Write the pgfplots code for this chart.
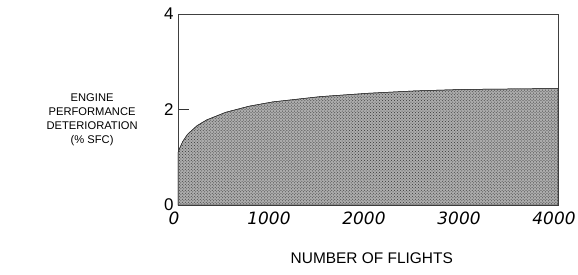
\documentclass[border=0pt]{standalone}
\usepackage{fontspec}
\setmainfont{Liberation Sans}
\newfontfamily\tickfont{DejaVu Sans}
\usepackage{pgfplots}
\pgfplotsset{compat=1.18}
\usetikzlibrary{patterns}
\begin{document}
\begin{tikzpicture}[x=1bp,y=1bp]
\begin{axis}[
  at={(178bp,69bp)}, anchor=south west,
  width=380bp, height=191bp, scale only axis=true,
  xmin=0, xmax=4000, ymin=0, ymax=4,
  xtick={0,1000,2000,3000,4000},
  ytick={0,2,4},
  xtick style={draw=none},
  ytick style={black!80, line width=0.6pt},
  major tick length=11bp,
  tick align=inside,
  axis line style={black!75, line width=0.6pt},
  /pgf/number format/assume math mode=true,
  /pgf/number format/1000 sep={},
  xticklabel style={font=\fontsize{17}{18}\selectfont\tickfont\slshape, yshift=-3bp, xshift=-4bp},
  yticklabel style={font=\fontsize{17}{18}\selectfont, xshift=-1bp},
  xlabel={NUMBER OF FLIGHTS},
  xlabel style={at={(axis description cs:0.51,-0.277)}, anchor=center, font=\fontsize{15.5}{17}\selectfont},
  ylabel={ENGINE\\PERFORMANCE\\DETERIORATION\\(\% SFC)},
  ylabel style={at={(axis description cs:-0.226,0.445)}, anchor=center, rotate=-90, align=center, font=\fontsize{11.2}{14}\selectfont},
  clip=false,
]
\addplot[draw=black!80, line width=0.5pt, fill=black!32,
  postaction={pattern=crosshatch dots, pattern color=black!80}]
  coordinates {
  (0,0) (0,1.1) (20,1.2) (50,1.33) (100,1.48) (200,1.66) (300,1.78)
  (500,1.94) (750,2.07) (1000,2.16) (1500,2.27) (2000,2.34)
  (2500,2.39) (3000,2.42) (3500,2.43) (4000,2.44) (4000,0)
  } -- cycle;
\end{axis}
\pgfresetboundingbox
\useasboundingbox (0,0) rectangle (578,274);
\end{tikzpicture}
\end{document}
